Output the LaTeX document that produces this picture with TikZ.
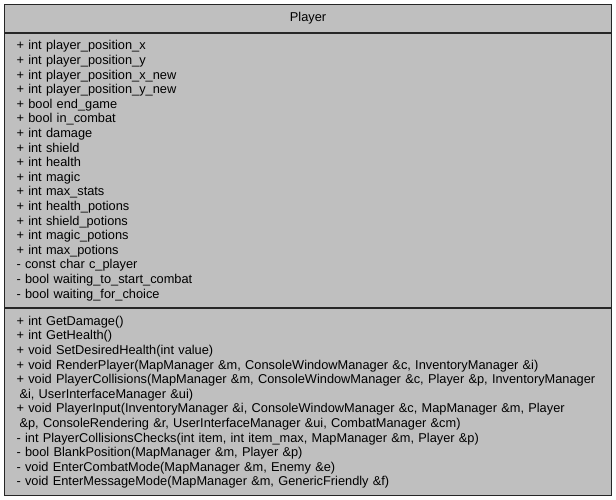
\documentclass[tikz,border=0pt]{standalone}
\usepackage{fontspec}
\setmainfont{Liberation Sans}
\usepackage{tikz}
\usetikzlibrary{positioning}
\definecolor{umlgray}{gray}{0.75}
\tikzset{classpart/.style={draw=black!85, line width=1.1pt, fill=umlgray, minimum width=607pt, inner xsep=12pt, inner ysep=0pt, font=\fontsize{12.8}{14.6}\selectfont}}

\begin{document}
\begin{tikzpicture}[x=1pt,y=-1pt]       % class Player
    \path[use as bounding box] (0,0) rectangle (616,499);

    \node[classpart, anchor=north west, minimum height=28pt] at (4,4) (title) {Player};

    \node[classpart, below=0pt of title, minimum height=274pt, text width=583pt, align=left] (attrs) {%
      + int player\_position\_x\\
      + int player\_position\_y\\
      + int player\_position\_x\_new\\
      + int player\_position\_y\_new\\
      + bool end\_game\\
      + bool in\_combat\\
      + int damage\\
      + int shield\\
      + int health\\
      + int magic\\
      + int max\_stats\\
      + int health\_potions\\
      + int shield\_potions\\
      + int magic\_potions\\
      + int max\_potions\\
      - const char c\_player\\
      - bool waiting\_to\_start\_combat\\
      - bool waiting\_for\_choice};

    \node[classpart, below=0pt of attrs, minimum height=187pt, text width=583pt, align=left] (methods) {%
      + int GetDamage()\\
      + int GetHealth()\\
      + void SetDesiredHealth(int value)\\
      + void RenderPlayer(MapManager \&m, ConsoleWindowManager \&c, InventoryManager \&i)\\
      + void PlayerCollisions(MapManager \&m, ConsoleWindowManager \&c, Player \&p, InventoryManager\\
      \hspace*{3pt}\&i, UserInterfaceManager \&ui)\\
      + void PlayerInput(InventoryManager \&i, ConsoleWindowManager \&c, MapManager \&m, Player\\
      \hspace*{3pt}\&p, ConsoleRendering \&r, UserInterfaceManager \&ui, CombatManager \&cm)\\
      - int PlayerCollisionsChecks(int item, int item\_max, MapManager \&m, Player \&p)\\
      - bool BlankPosition(MapManager \&m, Player \&p)\\
      - void EnterCombatMode(MapManager \&m, Enemy \&e)\\
      - void EnterMessageMode(MapManager \&m, GenericFriendly \&f)};
\end{tikzpicture}
\end{document}
